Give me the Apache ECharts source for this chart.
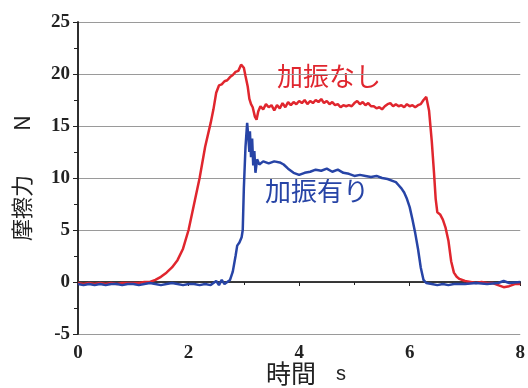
<!DOCTYPE html>
<html>
<head>
<meta charset="utf-8">
<script src="https://cdn.jsdelivr.net/npm/echarts@6/dist/echarts.min.js"></script>
<style>
  html, body { margin: 0; padding: 0; background: #fff; }
  #chart { width: 528px; height: 388px; }
</style>
</head>
<body>
<div id="chart"></div>
<script>
// 摩擦力の時間変化（加振なし / 加振有り）

const xTicks = [0, 2, 4, 6, 8];
const yTicks = [-5, 0, 5, 10, 15, 20, 25];

// 加振なし [時間 s, 摩擦力 N]
const noVibration = [
    [0, -0.1], [0.1, -0.2], [0.2, -0.1], [0.3, -0.2], [0.4, -0.1], [0.5, -0.2],
    [0.6, -0.1], [0.7, -0.2], [0.8, -0.1], [0.9, -0.1], [1.0, -0.1], [1.1, -0.1],
    [1.2, 0], [1.3, 0], [1.4, 0.2], [1.5, 0.5], [1.6, 0.9], [1.7, 1.4], [1.8, 2.1],
    [1.9, 3.2], [2.0, 5.0], [2.1, 7.5], [2.2, 10.0], [2.3, 13.0], [2.4, 15.3],
    [2.45, 16.6], [2.5, 18.2], [2.55, 18.9], [2.6, 19.0], [2.65, 19.3], [2.7, 19.4],
    [2.75, 19.7], [2.8, 19.9], [2.85, 20.2], [2.9, 20.3], [2.95, 20.9], [2.98, 21.0],
    [3.0, 20.6], [3.03, 19.8], [3.07, 18.8], [3.1, 17.6], [3.13, 17.1], [3.16, 16.8],
    [3.2, 15.9], [3.23, 15.6], [3.26, 16.4], [3.3, 16.9], [3.35, 16.6], [3.4, 17.1],
    [3.45, 16.8], [3.5, 17.0], [3.55, 16.5], [3.6, 17.0], [3.65, 16.7], [3.7, 17.2],
    [3.75, 16.8], [3.8, 17.3], [3.85, 17.0], [3.9, 17.3], [3.95, 17.1], [4.0, 17.4],
    [4.05, 17.2], [4.1, 17.5], [4.15, 17.1], [4.2, 17.4], [4.25, 17.2], [4.3, 17.5],
    [4.35, 17.3], [4.4, 17.6], [4.45, 17.2], [4.5, 17.4], [4.55, 17.1], [4.6, 17.3],
    [4.65, 17.0], [4.7, 17.1], [4.75, 16.8], [4.8, 17.0], [4.85, 16.9], [4.9, 17.0],
    [4.95, 16.9], [5.0, 17.2], [5.05, 17.4], [5.1, 17.1], [5.15, 17.3], [5.2, 17.0],
    [5.25, 17.2], [5.3, 16.9], [5.35, 16.9], [5.4, 16.7], [5.45, 16.8], [5.5, 16.6],
    [5.55, 16.9], [5.6, 17.1], [5.65, 17.2], [5.7, 16.9], [5.75, 17.1], [5.8, 16.9],
    [5.85, 17.0], [5.9, 16.8], [5.95, 17.1], [6.0, 16.9], [6.05, 17.0], [6.1, 16.8],
    [6.15, 17.0], [6.2, 17.1], [6.25, 17.5], [6.3, 17.8], [6.35, 16.5], [6.4, 13.5],
    [6.44, 10.5], [6.47, 8.0], [6.5, 6.7], [6.55, 6.5], [6.6, 6.0], [6.65, 5.2],
    [6.7, 4.0], [6.75, 2.0], [6.8, 0.9], [6.85, 0.5], [6.9, 0.3], [7.0, 0.1],
    [7.1, 0], [7.2, -0.1], [7.3, 0], [7.4, -0.1], [7.5, -0.1], [7.6, -0.3],
    [7.7, -0.5], [7.8, -0.4], [7.9, -0.2], [8.0, -0.2]
];

// 加振有り [時間 s, 摩擦力 N]
const withVibration = [
    [0, -0.2], [0.1, -0.3], [0.2, -0.2], [0.3, -0.3], [0.4, -0.2], [0.5, -0.3],
    [0.6, -0.2], [0.7, -0.2], [0.8, -0.3], [0.9, -0.2], [1.0, -0.2], [1.1, -0.3],
    [1.2, -0.2], [1.3, -0.1], [1.4, -0.2], [1.5, -0.3], [1.6, -0.2], [1.7, -0.1],
    [1.8, -0.2], [1.9, -0.3], [2.0, -0.2], [2.1, -0.2], [2.2, -0.3], [2.3, -0.2],
    [2.4, -0.3], [2.45, -0.1], [2.5, 0.1], [2.55, -0.3], [2.6, 0.2], [2.65, -0.2],
    [2.7, 0], [2.75, 0.2], [2.8, 1.0], [2.85, 2.5], [2.88, 3.5], [2.92, 3.8],
    [2.96, 4.3], [2.98, 5.0], [3.0, 9.0], [3.03, 13.0], [3.06, 15.3], [3.08, 14.0],
    [3.1, 12.5], [3.11, 14.5], [3.13, 12.0], [3.15, 13.8], [3.17, 11.2], [3.19, 12.6],
    [3.21, 10.5], [3.24, 11.8], [3.28, 11.3], [3.35, 11.6], [3.45, 11.4], [3.55, 11.6],
    [3.65, 11.5], [3.72, 11.3], [3.8, 10.9], [3.9, 10.5], [4.0, 10.3], [4.1, 10.5],
    [4.2, 10.6], [4.3, 10.8], [4.4, 10.7], [4.5, 10.9], [4.6, 10.6], [4.7, 10.8],
    [4.8, 10.5], [4.9, 10.4], [5.0, 10.2], [5.1, 10.3], [5.2, 10.2], [5.3, 10.1],
    [5.4, 10.2], [5.5, 10.0], [5.6, 9.9], [5.7, 9.7], [5.75, 9.6], [5.8, 9.3],
    [5.85, 9.0], [5.9, 8.6], [5.95, 8.0], [6.0, 7.2], [6.05, 6.0], [6.1, 4.7],
    [6.15, 3.2], [6.2, 1.4], [6.25, 0.2], [6.3, -0.1], [6.4, -0.2], [6.5, -0.3],
    [6.6, -0.2], [6.7, -0.3], [6.8, -0.2], [7.0, -0.2], [7.2, -0.1], [7.4, -0.2],
    [7.6, -0.1], [7.7, 0.1], [7.8, -0.1], [8.0, 0]
];

const RED = '#e0262e';
const BLUE = '#2744a6';
const tickFont = { fontFamily: 'Liberation Serif', fontWeight: 'bold', fontSize: 19, color: '#222' };
const jpFont = 'Noto Sans CJK JP';

const chart = echarts.init(document.getElementById('chart'));
chart.setOption({
    animation: false,
    grid: { left: 78, right: 7, top: 22, bottom: 54 },
    xAxis: [{
        type: 'value',
        min: xTicks[0], max: xTicks[xTicks.length - 1], interval: 2,
        axisLine: { lineStyle: { color: '#222', width: 1.5 } },
        axisTick: { show: true, length: 4, lineStyle: { color: '#222' } },
        minorTick: { show: true, splitNumber: 2, length: 3, lineStyle: { color: '#222' } },
        axisLabel: Object.assign({ margin: 10 }, tickFont),
        splitLine: { show: false }
    }, {
        type: 'value', position: 'top',
        min: xTicks[0], max: xTicks[xTicks.length - 1], interval: 2,
        axisLine: { show: true, lineStyle: { color: '#333', width: 1.5 } },
        axisTick: { show: true, inside: true, length: 4, lineStyle: { color: '#222' } },
        minorTick: { show: true, splitNumber: 2, length: 3, lineStyle: { color: '#222' } },
        axisLabel: { show: false },
        splitLine: { show: false }
    }],
    yAxis: [{
        type: 'value',
        min: yTicks[0], max: yTicks[yTicks.length - 1], interval: 5,
        name: '摩擦力　　N',
        nameLocation: 'middle',
        nameGap: 45,
        nameTextStyle: { fontFamily: jpFont, fontSize: 22, color: '#222' },
        axisLine: { show: true, lineStyle: { color: '#222', width: 1.5 } },
        axisTick: { show: true, length: 5, lineStyle: { color: '#222' } },
        minorTick: { show: true, splitNumber: 2, length: 4, lineStyle: { color: '#222' } },
        axisLabel: Object.assign({ margin: 8 }, tickFont),
        splitLine: { show: true, lineStyle: { color: '#9a9a9a', width: 1.2 } }
    }, {
        type: 'value', position: 'right',
        min: yTicks[0], max: yTicks[yTicks.length - 1], interval: 5,
        axisLine: { show: true, lineStyle: { color: '#222', width: 1.5 } },
        axisTick: { show: true, inside: true, length: 5, lineStyle: { color: '#222' } },
        minorTick: { show: true, splitNumber: 2, length: 4, lineStyle: { color: '#222' } },
        axisLabel: { show: false },
        splitLine: { show: false }
    }],
    graphic: [
        { type: 'text', left: 266, top: 361, style: { text: '時間', fontFamily: jpFont, fontSize: 25, fill: '#222' } },
        { type: 'text', left: 336, top: 364, style: { text: 's', fontFamily: 'Liberation Sans', fontSize: 20, fill: '#222' } },
        { type: 'text', left: 277, top: 63, style: { text: '加振なし', fontFamily: jpFont, fontSize: 26, fill: RED } },
        { type: 'text', left: 265, top: 178, style: { text: '加振有り', fontFamily: jpFont, fontSize: 26, fill: BLUE } }
    ],
    series: [{
        name: '加振なし',
        type: 'line',
        data: noVibration,
        showSymbol: false,
        lineStyle: { color: RED, width: 2.5 },
        z: 3
    }, {
        name: '加振有り',
        type: 'line',
        data: withVibration,
        showSymbol: false,
        lineStyle: { color: BLUE, width: 2.5 },
        z: 4
    }]
});
</script>
</body>
</html>
